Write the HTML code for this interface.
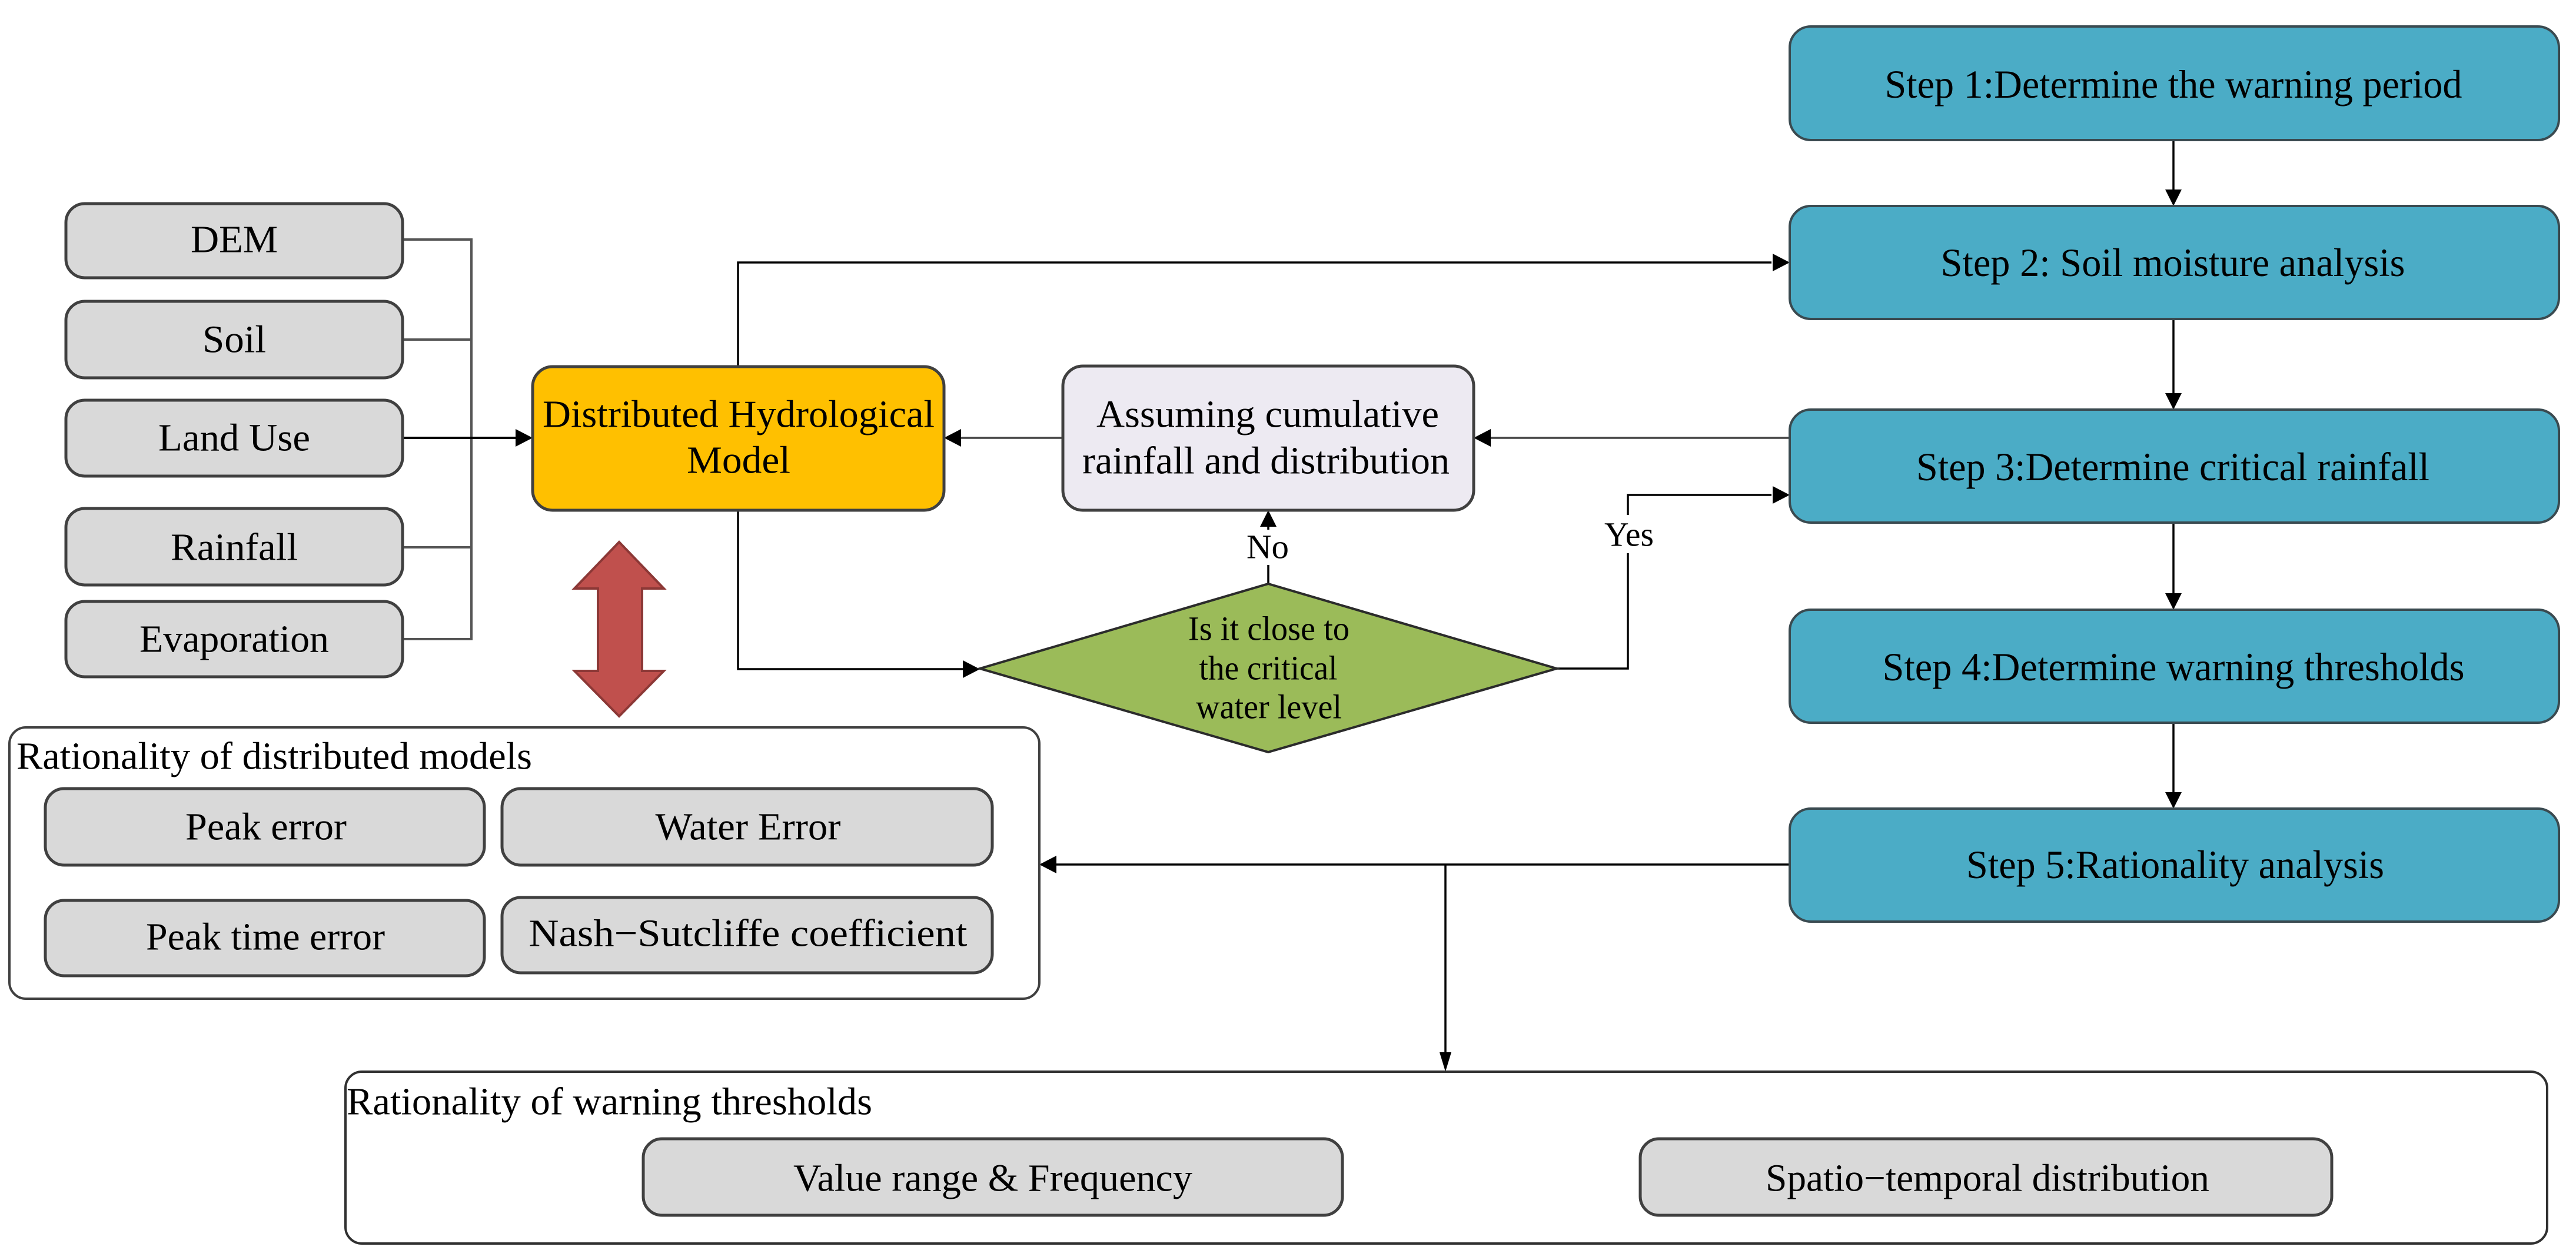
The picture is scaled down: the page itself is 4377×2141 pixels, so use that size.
<!DOCTYPE html>
<html><head><meta charset="utf-8"><style>
html,body{margin:0;padding:0;background:#fff;}
svg{display:block;}
svg text{font-family:"Liberation Serif","Times New Roman",serif !important;fill:#000;}
</style></head><body>
<svg width="4377" height="2141" viewBox="0 0 4377 2141" xmlns="http://www.w3.org/2000/svg" font-family="Liberation Serif, serif">
<rect width="4377" height="2141" fill="#fff"/>

<g stroke="#555" stroke-width="4" fill="none">
<polyline points="684,407 801,407 801,1086 684,1086"/>
<line x1="684" y1="577" x2="801" y2="577"/>
<line x1="684" y1="930" x2="801" y2="930"/>
<line x1="684" y1="744" x2="880" y2="744" stroke="#000"/>
</g>
<g stroke="#000" stroke-width="3.5" fill="none">
<polyline points="1254,623 1254,446 3010,446"/>
<polyline points="1254,867 1254,1137 1640,1137"/>
<line x1="3041" y1="744" x2="2530" y2="744" stroke="#444"/>
<line x1="1806" y1="744" x2="1630" y2="744" stroke="#444"/>
<line x1="2155" y1="992" x2="2155" y2="960"/>
<line x1="2155" y1="900" x2="2155" y2="893"/>
<polyline points="2645,1136 2766,1136 2766,940"/>
<polyline points="2766,875 2766,841 3010,841"/>
<line x1="3693" y1="238" x2="3693" y2="325"/>
<line x1="3693" y1="542" x2="3693" y2="670"/>
<line x1="3693" y1="888" x2="3693" y2="1010"/>
<line x1="3693" y1="1228" x2="3693" y2="1348"/>
<line x1="3041" y1="1469" x2="1795" y2="1469"/>
<line x1="2456" y1="1469" x2="2456" y2="1790"/>
</g>
<g fill="#000">
<polygon points="905,744 876,729 876,759"/>
<polygon points="3041,446 3012,431 3012,461"/>
<polygon points="2504,744 2533,729 2533,759"/>
<polygon points="1604,744 1633,729 1633,759"/>
<polygon points="1665,1137 1636,1122 1636,1152"/>
<polygon points="2155,867 2141,895 2169,895"/>
<polygon points="3041,841 3012,826 3012,856"/>
<polygon points="3693,350 3679,322 3707,322"/>
<polygon points="3693,696 3679,668 3707,668"/>
<polygon points="3693,1036 3679,1008 3707,1008"/>
<polygon points="3693,1374 3679,1346 3707,1346"/>
<polygon points="1766,1469 1795,1454 1795,1484"/>
<polygon points="2456,1821 2446,1788 2466,1788"/>
</g>

<g fill="#d9d9d9" stroke="#404040" stroke-width="5">
<rect x="112" y="346" width="572" height="126" rx="32"/>
<rect x="112" y="512" width="572" height="130" rx="32"/>
<rect x="112" y="680" width="572" height="129" rx="32"/>
<rect x="112" y="864" width="572" height="130" rx="32"/>
<rect x="112" y="1022" width="572" height="128" rx="32"/>
</g>
<g font-size="66" text-anchor="middle" dominant-baseline="central" font-family="Liberation Serif, serif">
<text x="398" y="407" textLength="148" lengthAdjust="spacingAndGlyphs">DEM</text>
<text x="398" y="577" textLength="108" lengthAdjust="spacingAndGlyphs">Soil</text>
<text x="398" y="744" textLength="258" lengthAdjust="spacingAndGlyphs">Land Use</text>
<text x="398" y="930" textLength="216" lengthAdjust="spacingAndGlyphs">Rainfall</text>
<text x="398" y="1086" textLength="322" lengthAdjust="spacingAndGlyphs">Evaporation</text>
</g>

<rect x="905" y="623" width="699" height="244" rx="34" fill="#ffc000" stroke="#404040" stroke-width="5"/>
<g font-size="66" text-anchor="middle" dominant-baseline="central" font-family="Liberation Serif, serif">
<text x="1255" y="704" textLength="666" lengthAdjust="spacingAndGlyphs">Distributed Hydrological</text>
<text x="1255" y="782" textLength="176" lengthAdjust="spacingAndGlyphs">Model</text>
</g>

<polygon points="1052,921 1128,1000 1091,1000 1091,1140 1128,1140 1052,1217 976,1140 1016,1140 1016,1000 976,1000" fill="#c0504d" stroke="#8c3836" stroke-width="4"/>

<rect x="1806" y="622" width="698" height="245" rx="34" fill="#edeaf2" stroke="#404040" stroke-width="5"/>
<g font-size="66" text-anchor="middle" dominant-baseline="central" font-family="Liberation Serif, serif">
<text x="2154" y="704" textLength="582" lengthAdjust="spacingAndGlyphs">Assuming cumulative</text>
<text x="2151" y="783" textLength="624" lengthAdjust="spacingAndGlyphs">rainfall and distribution</text>
</g>

<polygon points="1665,1136 2155,992 2645,1136 2155,1278" fill="#9bbb59" stroke="#2b2b2b" stroke-width="4"/>
<g font-size="58" text-anchor="middle" dominant-baseline="central" font-family="Liberation Serif, serif">
<text x="2156" y="1068" textLength="274" lengthAdjust="spacingAndGlyphs">Is it close to</text>
<text x="2155" y="1135" textLength="235" lengthAdjust="spacingAndGlyphs">the critical</text>
<text x="2156" y="1201" textLength="248" lengthAdjust="spacingAndGlyphs">water level</text>
<text x="2154" y="929" textLength="72" lengthAdjust="spacingAndGlyphs">No</text>
<text x="2768" y="908" textLength="84" lengthAdjust="spacingAndGlyphs">Yes</text>
</g>

<g fill="#4bacc6" stroke="#3a4a50" stroke-width="4">
<rect x="3041" y="45" width="1307" height="193" rx="36"/>
<rect x="3041" y="350" width="1307" height="192" rx="36"/>
<rect x="3041" y="696" width="1307" height="192" rx="36"/>
<rect x="3041" y="1036" width="1307" height="192" rx="36"/>
<rect x="3041" y="1374" width="1307" height="192" rx="36"/>
</g>
<g font-size="68" text-anchor="middle" dominant-baseline="central" font-family="Liberation Serif, serif">
<text x="3693" y="143" textLength="981" lengthAdjust="spacingAndGlyphs">Step 1:Determine the warning period</text>
<text x="3692" y="446" textLength="789" lengthAdjust="spacingAndGlyphs">Step 2: Soil moisture analysis</text>
<text x="3692" y="793" textLength="872" lengthAdjust="spacingAndGlyphs">Step 3:Determine critical rainfall</text>
<text x="3693" y="1133" textLength="989" lengthAdjust="spacingAndGlyphs">Step 4:Determine warning thresholds</text>
<text x="3696" y="1469" textLength="710" lengthAdjust="spacingAndGlyphs">Step 5:Rationality analysis</text>
</g>

<rect x="16" y="1236" width="1750" height="461" rx="28" fill="#fff" stroke="#404040" stroke-width="4"/>
<text x="28" y="1285" font-size="66" dominant-baseline="central" font-family="Liberation Serif, serif" textLength="876" lengthAdjust="spacingAndGlyphs">Rationality of distributed models</text>
<g fill="#d9d9d9" stroke="#404040" stroke-width="5">
<rect x="77" y="1340" width="746" height="130" rx="32"/>
<rect x="853" y="1340" width="833" height="130" rx="32"/>
<rect x="77" y="1530" width="746" height="128" rx="32"/>
<rect x="853" y="1525" width="833" height="128" rx="32"/>
</g>
<g font-size="66" text-anchor="middle" dominant-baseline="central" font-family="Liberation Serif, serif">
<text x="452" y="1405" textLength="274" lengthAdjust="spacingAndGlyphs">Peak error</text>
<text x="1271" y="1405" textLength="315" lengthAdjust="spacingAndGlyphs">Water Error</text>
<text x="451" y="1592" textLength="406" lengthAdjust="spacingAndGlyphs">Peak time error</text>
<text x="1271" y="1586" textLength="745" lengthAdjust="spacingAndGlyphs">Nash−Sutcliffe coefficient</text>
</g>

<rect x="587" y="1821" width="3741" height="292" rx="28" fill="#fff" stroke="#303030" stroke-width="4"/>
<text x="589" y="1872" font-size="66" dominant-baseline="central" font-family="Liberation Serif, serif" textLength="893" lengthAdjust="spacingAndGlyphs">Rationality of warning thresholds</text>
<g fill="#d9d9d9" stroke="#404040" stroke-width="5">
<rect x="1093" y="1935" width="1188" height="130" rx="32"/>
<rect x="2787" y="1935" width="1175" height="130" rx="32"/>
</g>
<g font-size="66" text-anchor="middle" dominant-baseline="central" font-family="Liberation Serif, serif">
<text x="1687" y="2002" textLength="678" lengthAdjust="spacingAndGlyphs">Value range &amp; Frequency</text>
<text x="3377" y="2002" textLength="754" lengthAdjust="spacingAndGlyphs">Spatio−temporal distribution</text>
</g>
</svg>
</body></html>
